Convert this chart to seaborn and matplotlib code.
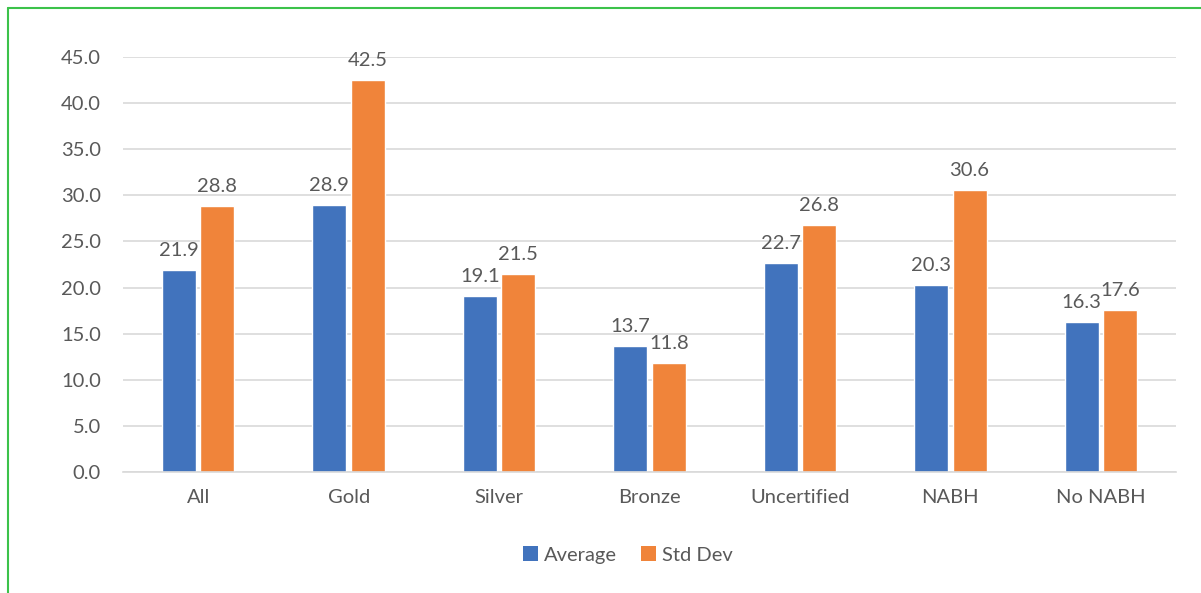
import matplotlib
matplotlib.use("Agg")
import matplotlib.pyplot as plt
import seaborn as sns
import pandas as pd
from matplotlib.lines import Line2D
from matplotlib.patches import Patch

categories = ["All", "Gold", "Silver", "Bronze", "Uncertified", "NABH", "No NABH"]
average = [21.9, 28.9, 19.1, 13.7, 22.7, 20.3, 16.3]
std_dev = [28.8, 42.5, 21.5, 11.8, 26.8, 30.6, 17.6]
series_names = ["Average", "Std Dev"]
colors = ["#4173BD", "#F0843A"]

df = pd.DataFrame({
    "cat": categories * 2,
    "val": average + std_dev,
    "series": [series_names[0]] * len(categories) + [series_names[1]] * len(categories),
})

sns.set_theme(style="white")
plt.rcParams['font.family'] = ['Lato', 'DejaVu Sans']
txt = "#595959"
fs = 14.5

fig = plt.figure(figsize=(12.01, 5.93), dpi=100)
ax = fig.add_axes([123/1201, 1 - 472/593, (1176-123)/1201, (472-57)/593])

sns.barplot(data=df, x="cat", y="val", hue="series", palette=colors,
            width=0.512, gap=0.117, ax=ax, legend=False, saturation=1)

ax.set_ylim(0, 45)
ax.set_yticks([i * 5 for i in range(10)])
ax.set_yticklabels([f"{i*5:.1f}" for i in range(10)])
ax.set_xlim(-0.5, len(categories) - 0.5)
ax.grid(axis="y", color="#D9D9D9", linewidth=1.2)
ax.set_axisbelow(True)
for s in ["top", "right", "left"]:
    ax.spines[s].set_visible(False)
ax.spines["bottom"].set_color("#D9D9D9")
ax.spines["bottom"].set_linewidth(1.2)
ax.set_xlabel("")
ax.set_ylabel("")
ax.tick_params(axis="both", length=0, labelsize=fs, colors=txt)
ax.tick_params(axis="x", pad=12)
ax.tick_params(axis="y", pad=16)

for cont in ax.containers:
    ax.bar_label(cont, fmt="%.1f", padding=8, fontsize=fs, color=txt)

handles = [Patch(facecolor=c, edgecolor="none") for c in colors]
fig.legend(handles, series_names, loc="center", bbox_to_anchor=(628/1201, 1 - 555/593),
           ncol=2, frameon=False, fontsize=fs, labelcolor=txt,
           handlelength=0.75, handleheight=0.75, handletextpad=0.3, columnspacing=1.2)

fig.add_artist(Line2D([8/1201, 8/1201], [0, 1 - 8/593], transform=fig.transFigure, color="#3CC24A", linewidth=1.5))
fig.add_artist(Line2D([8/1201, 1], [1 - 8/593, 1 - 8/593], transform=fig.transFigure, color="#3CC24A", linewidth=1.5))

fig.savefig("out.png", dpi=100)
